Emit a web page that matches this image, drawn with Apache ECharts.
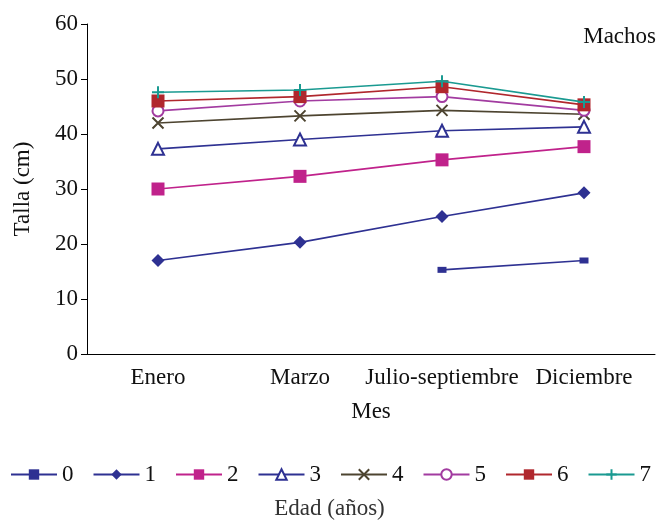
<!DOCTYPE html>
<html>
<head>
<meta charset="utf-8">
<script src="https://cdn.jsdelivr.net/npm/echarts@6/dist/echarts.min.js"></script>
<style>
  html, body { margin: 0; padding: 0; background: #fff; }
  #main { width: 659px; height: 524px; }
</style>
</head>
<body>
<div id="main"></div>
<script>
const meses = ['Enero', 'Marzo', 'Julio-septiembre', 'Diciembre'];
const edades = ['0', '1', '2', '3', '4', '5', '6', '7'];
const talla0 = [null, null, 15.3, 17.0];
const talla1 = [17.0, 20.3, 25.0, 29.3];
const talla2 = [30.0, 32.3, 35.3, 37.7];
const talla3 = [37.3, 39.0, 40.6, 41.3];
const talla4 = [42.0, 43.3, 44.3, 43.6];
const talla5 = [44.2, 46.0, 46.8, 44.3];
const talla6 = [46.0, 46.8, 48.6, 45.3];
const talla7 = [47.6, 48.0, 49.6, 45.8];

const font = 'Liberation Serif';
const colores = ['#2e3192', '#2e3192', '#c0228b', '#2e3192', '#4d4430', '#a23ba0', '#b0272d', '#1a9a91'];
const cruz = 'path://M0,0L10,10M10,0L0,10';
const mas = 'path://M5,0L5,10M0,5L10,5';
const simbolos = [
  { s: 'rect', size: [9, 6] },
  { s: 'diamond', size: 13 },
  { s: 'rect', size: 13 },
  { s: 'emptyTriangle', size: 12 },
  { s: cruz, size: 11 },
  { s: 'emptyCircle', size: 11 },
  { s: 'rect', size: 13 },
  { s: mas, size: 12 }
];
const datos = [talla0, talla1, talla2, talla3, talla4, talla5, talla6, talla7];

const chart = echarts.init(document.getElementById('main'));

const series = datos.map((d, i) => {
  const c = colores[i];
  const trazo = simbolos[i].s.startsWith('path') || simbolos[i].s.startsWith('empty');
  return {
    name: edades[i],
    type: 'line',
    data: d,
    symbol: simbolos[i].s,
    symbolSize: simbolos[i].size,
    showAllSymbol: true,
    lineStyle: { color: c, width: 1.6 },
    itemStyle: trazo ? { color: c, borderColor: c, borderWidth: 2 } : { color: c },
    emphasis: { disabled: true },
    z: 2 + i
  };
});

chart.setOption({
  animation: false,
  textStyle: { fontFamily: font },
  grid: { left: 87, right: 4, top: 24, bottom: 170 },
  legend: {
    bottom: 38,
    left: 10,
    width: 649,
    padding: 0,
    itemWidth: 46,
    itemHeight: 13,
    itemGap: 19,
    textStyle: { fontFamily: font, fontSize: 23, color: '#111' },
    data: edades
  },
  graphic: [
    { type: 'text', right: 3, top: 25, style: { text: 'Machos', font: '23px "Liberation Serif"', fill: '#111' } },
    { type: 'text', left: 'center', top: 497, style: { text: 'Edad (años)', font: '23px "Liberation Serif"', fill: '#333' } }
  ],
  xAxis: {
    type: 'category',
    data: meses,
    name: 'Mes',
    nameLocation: 'middle',
    nameGap: 46,
    nameTextStyle: { fontFamily: font, fontSize: 23, color: '#111' },
    axisLine: { lineStyle: { color: '#000', width: 1 } },
    axisTick: { length: 6, lineStyle: { color: '#000' } },
    axisLabel: { interval: 0, fontFamily: font, fontSize: 23, color: '#111', margin: 12 },
    splitLine: { show: false }
  },
  yAxis: {
    type: 'value',
    min: 0,
    max: 60,
    interval: 10,
    name: 'Talla (cm)',
    nameLocation: 'middle',
    nameGap: 53,
    nameTextStyle: { fontFamily: font, fontSize: 23, color: '#111' },
    axisLine: { show: true, lineStyle: { color: '#000', width: 1 } },
    axisTick: { show: true, length: 6, lineStyle: { color: '#000' } },
    axisLabel: { fontFamily: font, fontSize: 23, color: '#111', margin: 9 },
    splitLine: { show: false }
  },
  series: series
});
</script>
</body>
</html>
